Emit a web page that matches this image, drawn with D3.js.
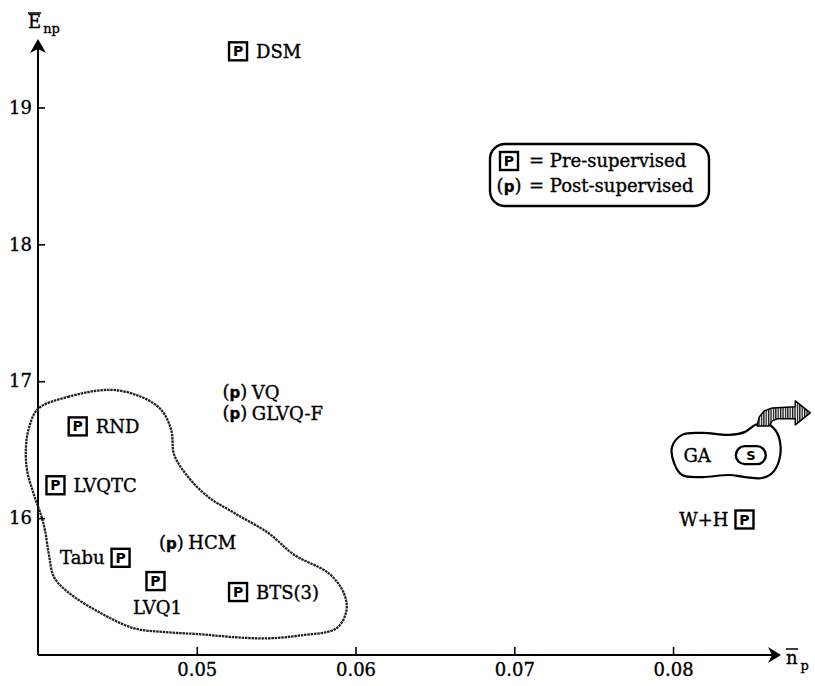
<!DOCTYPE html>
<html><head><meta charset="utf-8">
<script src="https://cdn.jsdelivr.net/npm/d3@7"></script>
<style>body{margin:0;background:#fff} svg{display:block}</style>
</head><body>
<svg id="chart" width="815" height="686"></svg>
<script>
// ---------- data ----------
const methods     = ["DSM", "RND", "LVQTC", "Tabu", "LVQ1", "HCM", "BTS(3)", "VQ", "GLVQ-F", "W+H", "GA"];
const npValues    = [0.0526, 0.0425, 0.0411, 0.0452, 0.0474, 0.0484, 0.0526, 0.0524, 0.0524, 0.0845, 0.0849];
const enpValues   = [19.41, 16.67, 16.24, 15.71, 15.54, 15.82, 15.46, 16.92, 16.765, 15.99, 16.46];
const supervision = ["pre", "pre", "pre", "pre", "pre", "post", "pre", "post", "post", "pre", "S"];
const xTicks = [0.05, 0.06, 0.07, 0.08];
const yTicks = [16, 17, 18, 19];
const legendItems = ["Pre-supervised", "Post-supervised"];
const legendKinds = ["pre", "post"];
// outline of the dotted group (data units)
const clusterNp  = [0.04000,0.04189,0.04461,0.04650,0.04776,0.04839,0.04858,0.04946,0.05073,0.05237,0.05451,0.05615,0.05830,0.05924,0.05943,0.05880,0.05659,0.05451,0.05237,0.05028,0.04820,0.04606,0.04397,0.04189,0.04101,0.04069,0.04044,0.04019,0.03975,0.03931,0.03924,0.03943];
const clusterEnp = [16.798,16.886,16.937,16.886,16.791,16.644,16.462,16.300,16.154,16.037,15.891,15.730,15.598,15.459,15.327,15.195,15.144,15.122,15.130,15.151,15.166,15.195,15.305,15.459,15.569,15.730,15.912,16.022,16.168,16.351,16.512,16.659];
// outline of the GA bubble (data units)
const gaNp  = [0.07994,0.08057,0.08183,0.08353,0.08454,0.08517,0.08580,0.08644,0.08675,0.08669,0.08625,0.08562,0.08454,0.08353,0.08183,0.08057,0.08006];
const gaEnp = [16.520,16.608,16.622,16.608,16.630,16.681,16.696,16.644,16.549,16.425,16.330,16.293,16.300,16.315,16.300,16.315,16.403];
// hatched arrow leaving the GA bubble (data units)
const arrowNp  = [0.08530,0.08543,0.08574,0.08625,0.08770,0.08770,0.08864,0.08770,0.08770,0.08656,0.08625,0.08606];
const arrowEnp = [16.673,16.739,16.783,16.805,16.813,16.856,16.769,16.681,16.725,16.725,16.710,16.673];

// ---------- setup ----------
const svg = d3.select("#chart");
const x = d3.scaleLinear().domain([0.04, 0.0868]).range([38, 781]);
const y = d3.scaleLinear().domain([15, 19.5]).range([655, 39]);
const serif = "'DejaVu Serif', serif";
const sans = "'DejaVu Sans', sans-serif";
const FS = 18;
const heavy = sel => sel.attr("stroke", "#000").attr("stroke-width", 0.35);

const defs = svg.append("defs");
const pat = defs.append("pattern").attr("id", "hatch").attr("patternUnits", "userSpaceOnUse")
  .attr("width", 2.4).attr("height", 4);
pat.append("rect").attr("width", 2.4).attr("height", 4).attr("fill", "#fff");
pat.append("rect").attr("width", 1.3).attr("height", 4).attr("fill", "#111");

// ---------- axes ----------
const xAxis = d3.axisBottom(x).tickValues(xTicks).tickFormat(d3.format(".2f"))
  .tickSizeInner(-8).tickSizeOuter(0).tickPadding(8);
const yAxis = d3.axisLeft(y).tickValues(yTicks).tickFormat(d3.format("d"))
  .tickSizeInner(-7).tickSizeOuter(0).tickPadding(6);

const gx = svg.append("g").attr("transform", `translate(0,${y(15)})`).call(xAxis);
const gy = svg.append("g").attr("transform", `translate(${x(0.04)},0)`).call(yAxis);
[gx, gy].forEach(g => {
  g.select(".domain").remove();
  g.selectAll(".tick line").attr("stroke", "#000").attr("stroke-width", 1.6);
  g.selectAll(".tick text").attr("font-family", serif).attr("font-size", FS).attr("fill", "#000").call(heavy);
});

const x0 = x(0.04), y0 = y(15), xEnd = x.range()[1], yEnd = y.range()[1];
svg.append("line").attr("x1", x0).attr("y1", y0).attr("x2", xEnd - 6).attr("y2", y0)
  .attr("stroke", "#000").attr("stroke-width", 2);
svg.append("line").attr("x1", x0).attr("y1", y0).attr("x2", x0).attr("y2", yEnd + 6)
  .attr("stroke", "#000").attr("stroke-width", 2);
// arrowheads
svg.append("path").attr("d", `M${xEnd},${y0} L${xEnd-13},${y0-8} L${xEnd-9},${y0} L${xEnd-13},${y0+8} Z`).attr("fill", "#000");
svg.append("path").attr("d", `M${x0},${yEnd} L${x0-8},${yEnd+14} L${x0},${yEnd+10} L${x0+8},${yEnd+14} Z`).attr("fill", "#000");

// axis titles with overline
function overTitle(px, py, main, sub, subDx, subDy) {
  const t = svg.append("text").attr("x", px).attr("y", py).attr("font-family", serif).attr("font-size", FS).attr("fill", "#000").call(heavy);
  const m = t.append("tspan").text(main);
  t.append("tspan").attr("dx", subDx).attr("dy", subDy).attr("font-size", 13).text(sub);
  const bb = m.node().getBBox();
  svg.append("line").attr("x1", bb.x).attr("x2", bb.x + bb.width).attr("y1", bb.y + 2).attr("y2", bb.y + 2)
    .attr("stroke", "#000").attr("stroke-width", 1.5);
}
overTitle(x0 - 10, 28, "E", "np", 2, 5);
overTitle(xEnd + 5, y0 + 9, "n", "p", 3, 6);

// ---------- group outlines ----------
const line = d3.line().x(d => x(d[0])).y(d => y(d[1])).curve(d3.curveCatmullRomClosed.alpha(0.5));
svg.append("path").datum(d3.zip(clusterNp, clusterEnp)).attr("d", line)
  .attr("fill", "none").attr("stroke", "#222").attr("stroke-width", 2.3).attr("stroke-dasharray", "2.5,0.8");
svg.append("path").datum(d3.zip(gaNp, gaEnp)).attr("d", line)
  .attr("fill", "none").attr("stroke", "#000").attr("stroke-width", 2.2);
const lineLin = d3.line().x(d => x(d[0])).y(d => y(d[1])).curve(d3.curveLinearClosed);
svg.append("path").datum(d3.zip(arrowNp, arrowEnp)).attr("d", lineLin)
  .attr("fill", "url(#hatch)").attr("stroke", "#000").attr("stroke-width", 1.5).attr("stroke-linejoin", "round");

// ---------- markers ----------
function marker(g, kind, cx, cy) {
  if (kind === "pre") {
    g.append("rect").attr("x", cx - 9).attr("y", cy - 9).attr("width", 18).attr("height", 18)
      .attr("fill", "#fff").attr("stroke", "#000").attr("stroke-width", 2.4);
    g.append("text").attr("x", cx).attr("y", cy).attr("dy", "0.36em").attr("text-anchor", "middle")
      .attr("font-family", sans).attr("font-weight", "bold").attr("font-size", 14).text("P");
  } else if (kind === "post") {
    const t = g.append("text").attr("x", cx).attr("y", cy).attr("dy", "0.32em").attr("text-anchor", "middle")
      .attr("font-family", serif).attr("font-size", 18).call(heavy);
    t.append("tspan").text("(");
    t.append("tspan").attr("font-family", sans).attr("font-weight", "bold").attr("font-size", 15).text("p");
    t.append("tspan").text(")");
  } else {
    g.append("rect").attr("x", cx - 15).attr("y", cy - 9).attr("width", 30).attr("height", 18)
      .attr("rx", 9).attr("fill", "#fff").attr("stroke", "#000").attr("stroke-width", 2.4);
    g.append("text").attr("x", cx).attr("y", cy).attr("dy", "0.36em").attr("text-anchor", "middle")
      .attr("font-family", sans).attr("font-weight", "bold").attr("font-size", 13).text("S");
  }
}

const placement = { "Tabu": "left", "W+H": "left", "GA": "left", "LVQ1": "below" };
methods.forEach((name, i) => {
  const cx = x(npValues[i]), cy = y(enpValues[i]);
  const g = svg.append("g");
  marker(g, supervision[i], cx, cy);
  const side = placement[name] || "right";
  const t = g.append("text").attr("font-family", serif).attr("font-size", FS).attr("fill", "#000").call(heavy).text(name);
  if (side === "right") {
    t.attr("x", cx + (supervision[i] === "post" ? 17 : 18)).attr("y", cy).attr("dy", "0.36em");
  } else if (side === "left") {
    t.attr("x", cx - (supervision[i] === "S" ? 40 : 16)).attr("y", cy).attr("dy", "0.36em").attr("text-anchor", "end");
  } else {
    t.attr("x", cx + 2).attr("y", cy + 33).attr("text-anchor", "middle");
  }
});

// ---------- legend ----------
const lg = svg.append("g").attr("transform", "translate(490,144)");
lg.append("rect").attr("width", 219).attr("height", 62).attr("rx", 15)
  .attr("fill", "#fff").attr("stroke", "#000").attr("stroke-width", 2.4);
legendItems.forEach((lab, i) => {
  const cy = 17 + i * 25;
  marker(lg, legendKinds[i], 19, cy);
  lg.append("text").attr("x", 39).attr("y", cy).attr("dy", "0.36em")
    .attr("font-family", serif).attr("font-size", FS).call(heavy).text("= " + lab);
});
</script>
</body></html>
